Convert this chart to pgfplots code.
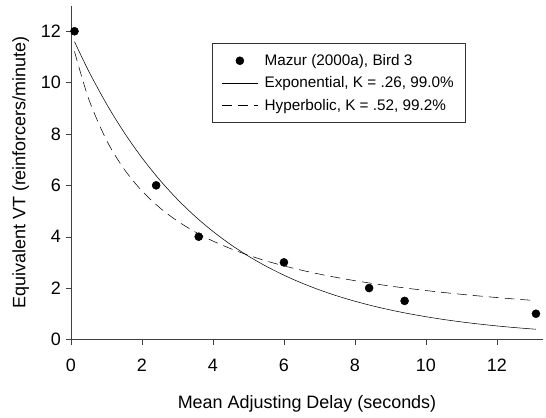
\documentclass[border={6pt 1pt 2pt 4pt}]{standalone}
\usepackage{fontspec}
\setmainfont{Liberation Sans}
\usepackage{pgfplots}
\pgfplotsset{compat=1.18}
\pgfplotsset{
  linelegend/.style={legend image code/.code={\draw[##1] (0cm,0cm) -- (0.95cm,0cm);}},
  dotlegend/.style={legend image code/.code={\draw[##1] plot coordinates {(0.48cm,0cm)};}},
}
\begin{document}
\begin{tikzpicture}
\begin{axis}[
  scale only axis,
  width=355pt, height=251pt,
  xmin=0, xmax=13.3, ymin=0, ymax=13,
  axis x line=bottom, axis y line=left,
  axis line style={black!75, -},
  xtick={0,2,...,12}, ytick={0,2,...,12},
  tick align=outside, major tick length=4pt,
  tick style={black!75},
  /pgf/number format/assume math mode=true,
  tick label style={font=\fontsize{13.5}{15}\selectfont},
  xticklabel style={yshift=-7pt},
  label style={font=\fontsize{13.5}{15}\selectfont},
  xlabel={Mean Adjusting Delay (seconds)},
  ylabel={Equivalent VT (reinforcers/minute)},
  xlabel style={yshift=-11pt},
  ylabel style={yshift=2pt},
  legend style={at={(0.2985,0.887)}, anchor=north west, draw=black!80,
    font=\fontsize{11.5}{14}\selectfont, inner xsep=7pt, inner ysep=6pt,
    row sep=3pt, column sep=3pt},
  legend cell align=left,
]
\addplot[only marks, mark=*, mark size=3pt, black, dotlegend] coordinates {
  (0.1,12) (2.4,6) (3.6,4) (6,3) (8.4,2) (9.4,1.5) (13.1,1)};
\addlegendentry{Mazur (2000a), Bird 3}
\addplot[black, thin, smooth, linelegend] coordinates {
  (0.1,11.595) (0.5,10.449) (1,9.176) (1.5,8.057) (2,7.075) (2.5,6.212)
  (3,5.455) (3.5,4.790) (4,4.206) (4.5,3.693) (5,3.243) (5.5,2.848)
  (6,2.501) (6.5,2.196) (7,1.928) (7.5,1.693) (8,1.487) (8.5,1.305)
  (9,1.146) (9.5,1.007) (10,0.884) (10.5,0.776) (11,0.681) (11.5,0.598)
  (12,0.525) (12.5,0.461) (13.1,0.395)};
\addlegendentry{Exponential, K = .26, 99.0\%}
\addplot[black, thin, smooth, dash pattern=on 7.5pt off 4.5pt, linelegend] coordinates {
  (0.1,11.217) (0.5,9.365) (1,7.763) (1.5,6.629) (2,5.784) (2.5,5.130)
  (3,4.609) (3.5,4.184) (4,3.831) (4.5,3.533) (5,3.278) (5.5,3.057)
  (6,2.864) (6.5,2.694) (7,2.543) (7.5,2.408) (8,2.287) (8.5,2.177)
  (9,2.077) (9.5,1.987) (10,1.903) (10.5,1.827) (11,1.756) (11.5,1.691)
  (12,1.630) (12.5,1.573) (13.1,1.510)};
\addlegendentry{Hyperbolic, K = .52, 99.2\%}
\end{axis}
\end{tikzpicture}
\end{document}
